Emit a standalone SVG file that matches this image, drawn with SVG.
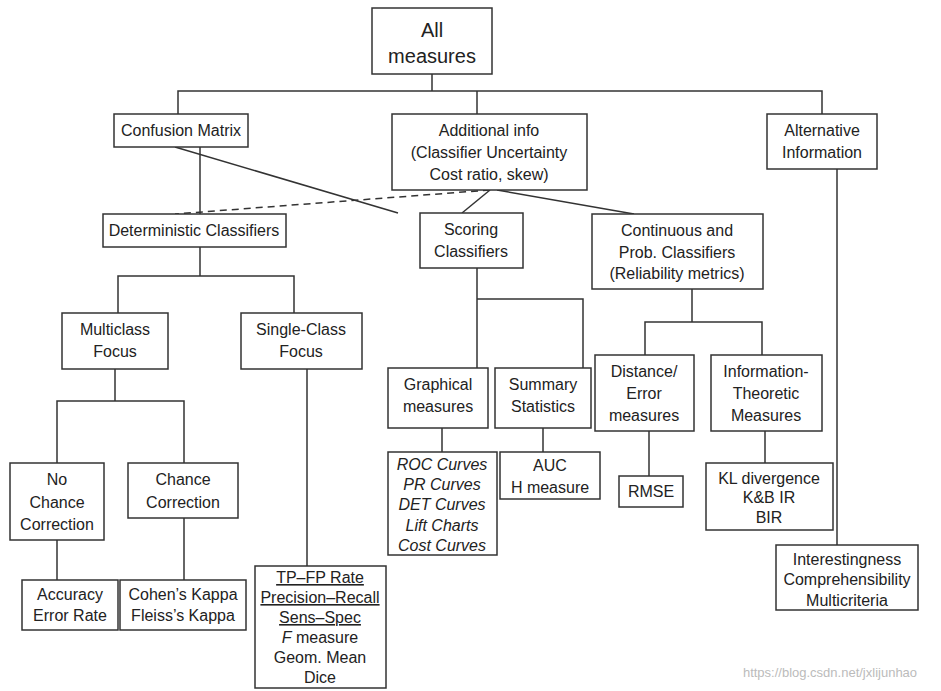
<svg xmlns="http://www.w3.org/2000/svg" width="941" height="691" viewBox="0 0 941 691">
<style>
rect{fill:#fff;stroke:#333;stroke-width:1.5}
text{font-family:"Liberation Sans",Arial,sans-serif;font-size:16px;fill:#222;text-anchor:middle}
.c line,.c polyline{stroke:#333;stroke-width:1.5;fill:none}
.i{font-style:italic}
.u{text-decoration:underline}
</style>
<rect x="0" y="0" width="941" height="691" style="stroke:none"/>
<g class="c">
<polyline points="178,114 178,91 822,91 822,114"/>
<line x1="477" y1="91" x2="477" y2="114"/>
<line x1="432" y1="74" x2="432" y2="91"/>
<line x1="200" y1="147" x2="200" y2="214"/>
<line x1="175" y1="147" x2="398" y2="213"/>
<line x1="490" y1="190" x2="175" y2="214" stroke-dasharray="7,5"/>
<line x1="490" y1="190" x2="462" y2="213"/>
<line x1="497" y1="190" x2="634" y2="214"/>
<line x1="477" y1="268" x2="477" y2="368"/>
<polyline points="477,299 583,299 583,368"/>
<line x1="442" y1="428" x2="442" y2="452"/>
<line x1="543" y1="428" x2="543" y2="452"/>
<line x1="692" y1="289" x2="692" y2="322"/>
<polyline points="645,355 645,322 762,322 762,355"/>
<line x1="649" y1="431" x2="649" y2="476"/>
<line x1="765" y1="431" x2="765" y2="463"/>
<line x1="837" y1="169" x2="837" y2="545"/>
<line x1="200" y1="247" x2="200" y2="276"/>
<polyline points="118,313 118,276 294,276 294,313"/>
<line x1="115" y1="369" x2="115" y2="401"/>
<polyline points="57,463 57,401 184,401 184,463"/>
<line x1="57" y1="540" x2="57" y2="580"/>
<line x1="184" y1="518" x2="184" y2="580"/>
<line x1="307" y1="369" x2="307" y2="566"/>
</g>
<g id="all"><rect x="372" y="8" width="120" height="66"/><text x="432" y="37" style="font-size:20px">All</text><text x="432" y="63" style="font-size:20px">measures</text></g>
<g id="confusion"><rect x="114" y="114" width="134" height="33"/><text x="181" y="136">Confusion Matrix</text></g>
<g id="additional"><rect x="392" y="114" width="195" height="76"/><text x="489" y="136">Additional info</text><text x="489" y="158">(Classifier Uncertainty</text><text x="489" y="180">Cost ratio, skew)</text></g>
<g id="alternative"><rect x="767" y="114" width="110" height="55"/><text x="822" y="136">Alternative</text><text x="822" y="158">Information</text></g>
<g id="deterministic"><rect x="103" y="214" width="183" height="33"/><text x="194" y="236">Deterministic Classifiers</text></g>
<g id="scoring"><rect x="420" y="213" width="103" height="55"/><text x="471" y="235">Scoring</text><text x="471" y="257">Classifiers</text></g>
<g id="continuous"><rect x="592" y="214" width="171" height="75"/><text x="677" y="236">Continuous and</text><text x="677" y="258">Prob. Classifiers</text><text x="677" y="279">(Reliability metrics)</text></g>
<g id="graphical"><rect x="388" y="368" width="100" height="60"/><text x="438" y="390">Graphical</text><text x="438" y="412">measures</text></g>
<g id="summary"><rect x="495" y="368" width="96" height="60"/><text x="543" y="390">Summary</text><text x="543" y="412">Statistics</text></g>
<g id="roc"><rect x="388" y="452" width="109" height="103"/><text class="i" x="442" y="470">ROC Curves</text><text class="i" x="442" y="490">PR Curves</text><text class="i" x="442" y="510">DET Curves</text><text class="i" x="442" y="531">Lift Charts</text><text class="i" x="442" y="551">Cost Curves</text></g>
<g id="auc"><rect x="500" y="452" width="100" height="47"/><text x="550" y="471">AUC</text><text x="550" y="493">H measure</text></g>
<g id="distance"><rect x="595" y="355" width="99" height="76"/><text x="644" y="377">Distance/</text><text x="644" y="399">Error</text><text x="644" y="421">measures</text></g>
<g id="info"><rect x="711" y="355" width="111" height="76"/><text x="766" y="377">Information-</text><text x="766" y="399">Theoretic</text><text x="766" y="421">Measures</text></g>
<g id="rmse"><rect x="619" y="476" width="64" height="31"/><text x="651" y="497">RMSE</text></g>
<g id="kl"><rect x="706" y="463" width="127" height="67"/><text x="769" y="484">KL divergence</text><text x="769" y="503">K&amp;B IR</text><text x="769" y="523">BIR</text></g>
<g id="interest"><rect x="776" y="545" width="142" height="65"/><text x="847" y="565">Interestingness</text><text x="847" y="585">Comprehensibility</text><text x="847" y="606">Multicriteria</text></g>
<g id="multiclass"><rect x="62" y="313" width="106" height="56"/><text x="115" y="335">Multiclass</text><text x="115" y="357">Focus</text></g>
<g id="single"><rect x="241" y="313" width="121" height="56"/><text x="301" y="335">Single-Class</text><text x="301" y="357">Focus</text></g>
<g id="nochance"><rect x="10" y="463" width="94" height="77"/><text x="57" y="485">No</text><text x="57" y="508">Chance</text><text x="57" y="530">Correction</text></g>
<g id="chance"><rect x="128" y="463" width="110" height="55"/><text x="183" y="485">Chance</text><text x="183" y="508">Correction</text></g>
<g id="accuracy"><rect x="22" y="580" width="96" height="50"/><text x="70" y="600">Accuracy</text><text x="70" y="621">Error Rate</text></g>
<g id="cohen"><rect x="120" y="580" width="126" height="50"/><text x="183" y="600">Cohen’s Kappa</text><text x="183" y="621">Fleiss’s Kappa</text></g>
<g id="tp"><rect x="255" y="566" width="131" height="122"/><text class="u" x="320" y="583">TP–FP Rate</text><text class="u" x="320" y="603">Precision–Recall</text><text class="u" x="320" y="623">Sens–Spec</text><text x="320" y="643"><tspan class="i">F</tspan> measure</text><text x="320" y="663">Geom. Mean</text><text x="320" y="683">Dice</text></g>
<text x="830" y="677" style="font-size:13px;fill:#bbb">https://blog.csdn.net/jxlijunhao</text>
</svg>
